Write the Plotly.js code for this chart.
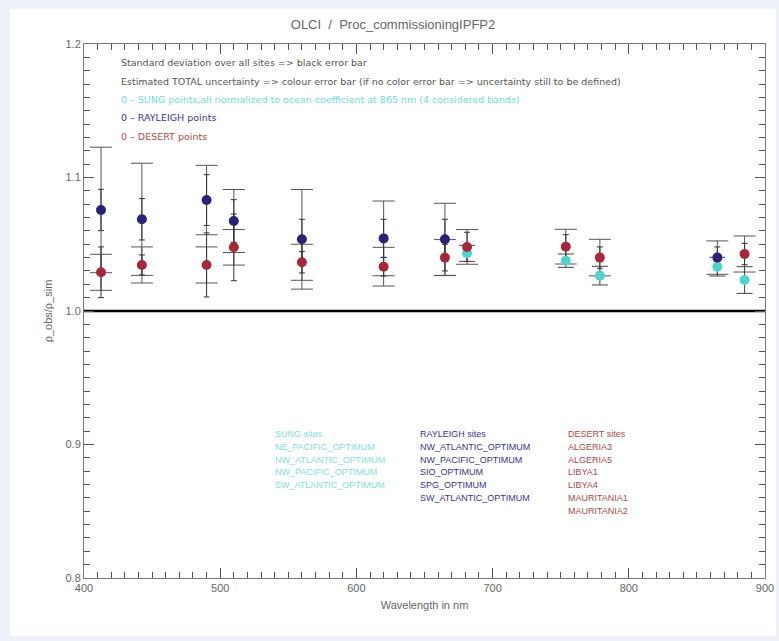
<!DOCTYPE html>
<html>
<head>
<meta charset="utf-8">
<script src="https://cdn.plot.ly/plotly-3.0.1.min.js"></script>
<style>
html,body{margin:0;padding:0;background:#eef2f8;width:779px;height:641px;overflow:hidden;}
#chart{position:absolute;left:10px;top:9px;width:766px;height:627px;background:#fff;}
</style>
</head>
<body>
<div id="chart"></div>
<script>
// ---- data ----
var rayWl    = [412.5, 442.5, 490, 510, 560, 620, 665, 865];
var rayVal   = [1.0757, 1.0687, 1.0831, 1.0674, 1.0537, 1.0544, 1.0537, 1.040];
var rayStd   = [0.0155, 0.0155, 0.019, 0.016, 0.015, 0.0143, 0.015, 0.008];
var rayTot   = [0.047, 0.042, 0.026, 0.0236, 0.0373, 0.028, 0.027, 0.0125];

var desWl    = [412.5, 442.5, 490, 510, 560, 620, 665, 681.25, 753.75, 778.75, 885];
var desVal   = [1.029, 1.0345, 1.0345, 1.0477, 1.0365, 1.0332, 1.040, 1.048, 1.0482, 1.040, 1.0427];
var desStd   = [0.019, 0.0075, 0.024, 0.025, 0.008, 0.007, 0.010, 0.011, 0.009, 0.008, 0.008];
var desTot   = [0.0135, 0.0135, 0.0135, 0.0133, 0.0135, 0.0145, 0.0135, 0.013, 0.013, 0.0137, 0.0135];

var sunWl    = [681.25, 753.75, 778.75, 865, 885];
var sunVal   = [1.0432, 1.0377, 1.0265, 1.0332, 1.0232];
var sunStd   = [0.006, 0.005, 0.007, 0.007, 0.010];

var xRange = [400, 900];
var yRange = [0.8, 1.2];

var headerLines = [
  "Standard deviation over all sites => black error bar",
  "Estimated TOTAL uncertainty => colour error bar (if no color error bar => uncertainty still to be defined)",
  "0 \u2013 SUNG points,all normalized to ocean coefficient at 865 nm (4 considered bands)",
  "0 \u2013 RAYLEIGH points",
  "0 \u2013 DESERT points"
];
var sunSites = ["SUNG sites", "NE_PACIFIC_OPTIMUM", "NW_ATLANTIC_OPTIMUM", "NW_PACIFIC_OPTIMUM", "SW_ATLANTIC_OPTIMUM"];
var raySites = ["RAYLEIGH sites", "NW_ATLANTIC_OPTIMUM", "NW_PACIFIC_OPTIMUM", "SIO_OPTIMUM", "SPG_OPTIMUM", "SW_ATLANTIC_OPTIMUM"];
var desSites = ["DESERT sites", "ALGERIA3", "ALGERIA5", "LIBYA1", "LIBYA4", "MAURITANIA1", "MAURITANIA2"];

// ---- styles ----
var cRay = '#2a2178', cDes = '#a8283a', cSun = '#4fd3cc';
var headerColors = ['#555555', '#555555', '#6fdcd6', '#3a3488', '#b04a4a'];

function errTrace(x, y, e, col, w) {
  return {x: x, y: y, type: 'scatter', mode: 'markers', marker: {opacity: 0, size: 1},
    hoverinfo: 'skip', showlegend: false,
    error_y: {type: 'data', array: e, visible: true, color: col, thickness: 1, width: w}};
}
function ptTrace(x, y, col) {
  return {x: x, y: y, type: 'scatter', mode: 'markers', showlegend: false,
    marker: {color: col, size: 10, line: {width: 0}}};
}

var data = [
  {x: [xRange[0]], y: [yRange[0]], xaxis: 'x2', yaxis: 'y2', type: 'scatter', mode: 'markers',
   marker: {opacity: 0, size: 1}, hoverinfo: 'skip', showlegend: false},
  errTrace(rayWl, rayVal, rayTot, '#555', 11),
  errTrace(desWl, desVal, desTot, '#555', 11),
  errTrace(rayWl, rayVal, rayStd, '#333', 3),
  errTrace(desWl, desVal, desStd, '#333', 3),
  errTrace(sunWl, sunVal, sunStd, '#444', 8),
  ptTrace(sunWl, sunVal, cSun),
  ptTrace(desWl, desVal, cDes),
  ptTrace(rayWl, rayVal, cRay)
];

var ann = [];
var hx = 426, hy0 = 1.1858, hdy = 0.0137;
headerLines.forEach(function (t, i) {
  ann.push({x: hx, y: hy0 - i * hdy, xref: 'x', yref: 'y', text: t, showarrow: false,
    xanchor: 'left', yanchor: 'middle', font: {family: 'DejaVu Sans, Arial', size: 9.5, color: headerColors[i]}});
});
function block(lines, x0, col) {
  lines.forEach(function (t, i) {
    ann.push({x: x0, y: 0.9079 - i * 0.00959, xref: 'x', yref: 'y', text: t, showarrow: false,
      xanchor: 'left', yanchor: 'middle', font: {family: 'Liberation Sans, Arial', size: 9, color: col}});
  });
}
block(sunSites, 538.8, '#7fe0da');
block(raySites, 645.2, '#3a3488');
block(desSites, 753.9, '#a84a4a');

var layout = {
  width: 766, height: 627,
  margin: {l: 74, r: 11, t: 35, b: 58},
  paper_bgcolor: '#ffffff', plot_bgcolor: '#ffffff',
  showlegend: false,
  title: {text: 'OLCI  /  Proc_commissioningIPFP2', x: 0.5, xanchor: 'center', y: 0.976, yanchor: 'middle',
    font: {family: 'Liberation Sans, Arial', size: 13, color: '#666'}},
  xaxis: {
    range: xRange, tickmode: 'linear', tick0: 400, dtick: 100,
    showgrid: false, zeroline: false, showline: true, linecolor: '#777', linewidth: 1,
    mirror: 'allticks', ticks: 'inside', ticklen: 10, tickcolor: '#555', tickwidth: 1,
    tickfont: {family: 'Liberation Sans, Arial', size: 11, color: '#666'},
    title: {text: 'Wavelength in nm', standoff: 8, font: {family: 'Liberation Sans, Arial', size: 11, color: '#666'}}
  },
  yaxis: {
    range: yRange, tickmode: 'linear', tick0: 0.8, dtick: 0.1, tickformat: '.1f',
    showgrid: false, zeroline: false, showline: true, linecolor: '#777', linewidth: 1,
    mirror: 'allticks', ticks: 'inside', ticklen: 10, tickcolor: '#555', tickwidth: 1,
    tickfont: {family: 'Liberation Sans, Arial', size: 11, color: '#666'},
    title: {text: '\u03c1_obs/\u03c1_sim', standoff: 10, font: {family: 'Liberation Sans, Arial', size: 11, color: '#666'}}
  },
  xaxis2: {
    overlaying: 'x', anchor: 'y2', side: 'bottom', range: xRange,
    tickmode: 'linear', tick0: 400, dtick: 10,
    showgrid: false, zeroline: false, showline: false, mirror: 'allticks',
    ticks: 'inside', ticklen: 6, tickcolor: '#555', tickwidth: 1, showticklabels: false
  },
  yaxis2: {
    overlaying: 'y', anchor: 'x2', side: 'left', range: yRange,
    tickmode: 'linear', tick0: 0.8, dtick: 0.01,
    showgrid: false, zeroline: false, showline: false, mirror: 'allticks',
    ticks: 'inside', ticklen: 6, tickcolor: '#555', tickwidth: 1, showticklabels: false
  },
  shapes: [{type: 'line', xref: 'paper', yref: 'y', x0: 0, x1: 1, y0: 1.0, y1: 1.0,
    line: {color: '#000', width: 2.5}, layer: 'below'}],
  annotations: ann
};

Plotly.newPlot('chart', data, layout, {displayModeBar: false});
</script>
</body>
</html>
